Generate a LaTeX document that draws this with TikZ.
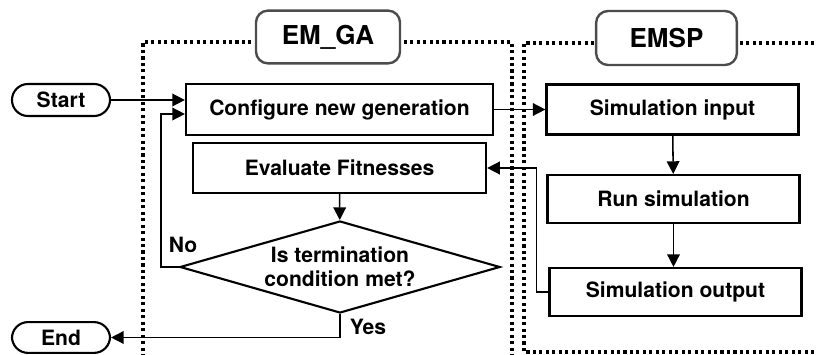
\documentclass[tikz,border=0pt]{standalone}
\usepackage{fontspec}
\setmainfont{TeX Gyre Heros}
\usetikzlibrary{shapes,arrows.meta,positioning}

\begin{document}
\begin{tikzpicture}[x=0.025cm,y=-0.025cm,
    every node/.style={font=\fontsize{15}{17}\selectfont\bfseries},
    box/.style={draw,line width=1.5pt,inner sep=0pt,minimum height=1.25cm},
    pill/.style={draw,line width=1.5pt,rounded corners=0.4cm,minimum width=2.45cm,minimum height=0.8cm},
    groupbox/.style={draw=black!70,fill=white,line width=1.7pt,rounded corners=0.3cm,
      font=\fontsize{18.5}{20}\selectfont\bfseries},
    frame/.style={line width=2.2pt,dash pattern=on 2.2pt off 2.4pt},
    arr/.style={line width=1.1pt,-{Triangle[length=9pt,width=9pt]}}]
      \useasboundingbox (0,0) rectangle (817,355);
      \clip (0,0) rectangle (817,355);
      \draw[frame] (143,370) |- (512,42) -- (512,370);
      \draw[frame] (840,352) -| (524,43) -- (840,43);
      \node[groupbox,minimum width=3.6cm,minimum height=1.32cm] (emga) at (328,37) {EM\_GA};
      \node[groupbox,minimum width=3.52cm,minimum height=1.35cm] (emsp) at (666.5,38) {EMSP};
      \node[pill] (start) at (61,100) {Start};
      \node[pill,minimum height=0.77cm] (end) at (61,337.5) {End};
      \node[box,minimum width=7.675cm,minimum height=1.275cm] (config) at (339.5,109.5) {Configure new generation};
      \node[box,minimum width=7.325cm] (eval) at (339.5,168) {Evaluate Fitnesses};
      \node[draw,diamond,line width=1.5pt,aspect=3.48,inner sep=0pt,minimum width=8cm,minimum height=2.3cm,
        align=center] (cond) at (340,267) {Is termination\\condition met?};
      \node[box,minimum width=6.3cm] (simin) at (672.5,109.5) {Simulation input};
      \node[box,minimum width=6.3cm,minimum height=1.2cm] (run) at (673.5,199) {Run simulation};
      \node[box,minimum width=6.3cm,minimum height=1.2cm] (simout) at (675.5,292) {Simulation output};
      \node (no) at (183,245) {No};
      \node (yes) at (368,327) {Yes};
      \draw[arr] (start) -- (start -| config.west);
      \draw[arr] (config.east) -- (simin.west);
      \draw[arr] (simin) -- (run);
      \draw[arr] (run.south) -- (run.south |- simout.north);
      \draw[arr] (simout.west) -- ++(-12,0) |- (eval.east);
      \draw[arr] (eval) -- (cond);
      \draw[arr] (cond.west) -- ++(-18,0) |- ([yshift=-3.2pt]config.west);
      \draw[arr] (cond.south) |- (end.east);
\end{tikzpicture}
\end{document}
